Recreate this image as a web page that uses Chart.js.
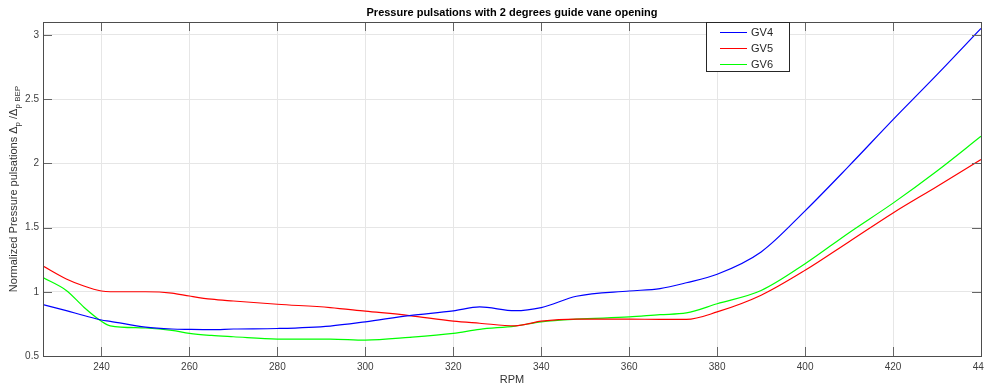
<!DOCTYPE html>
<html>
<head>
<meta charset="utf-8">
<script src="https://cdn.jsdelivr.net/npm/chart.js@4.4.1/dist/chart.umd.min.js"></script>
<style>
  html, body { margin: 0; padding: 0; background: #fff; }
  #wrap { width: 984px; height: 385px; }
</style>
</head>
<body>
<div id="wrap"><canvas id="pulseChart"></canvas></div>
<script>
// rpm sample points shared by all three curves
const rpm = [226.7, 232, 236, 240, 242, 250, 256, 260, 265, 270, 280, 292, 300, 310, 320,
             326, 334, 340, 348, 360, 367, 373, 380, 390, 400, 410, 420, 430, 440];

const gv4 = [0.90, 0.853, 0.815, 0.78, 0.77, 0.725, 0.71, 0.707, 0.705, 0.71, 0.714, 0.733, 0.766, 0.815, 0.851,
             0.882, 0.853, 0.877, 0.965, 1.006, 1.025, 1.07, 1.136, 1.31, 1.63, 1.98, 2.34, 2.69, 3.05];
const gv5 = [1.20, 1.10, 1.045, 1.006, 1.0, 1.0, 0.99, 0.967, 0.942, 0.928, 0.903, 0.877, 0.849, 0.815, 0.771,
             0.755, 0.735, 0.771, 0.787, 0.787, 0.785, 0.785, 0.843, 0.973, 1.167, 1.39, 1.614, 1.82, 2.03];
const gv6 = [1.11, 1.01, 0.88, 0.77, 0.735, 0.718, 0.70, 0.676, 0.66, 0.65, 0.632, 0.632, 0.624, 0.645, 0.676,
             0.708, 0.733, 0.766, 0.787, 0.804, 0.822, 0.835, 0.907, 1.01, 1.218, 1.46, 1.69, 1.94, 2.21];

const seriesNames = ['GV4', 'GV5', 'GV6'];
const seriesColors = ['#0000ff', '#ff0000', '#00ff00'];

const xTicks = [240, 260, 280, 300, 320, 340, 360, 380, 400, 420, 440];
const yTicks = [0.5, 1, 1.5, 2, 2.5, 3];

const titleText = 'Pressure pulsations with 2 degrees guide vane opening';
const xLabel = 'RPM';

const FONT = '"Liberation Sans", Arial, Helvetica, sans-serif';
const BOX_COLOR = '#4d4d4d';
const TICK_COLOR = '#666666';
const GRID_COLOR = '#e6e6e6';

function toPoints(ys) {
    return rpm.map((x, i) => ({ x: x, y: ys[i] }));
}

// matlab style frame: box, inward ticks on all four sides, title, axis labels, legend
const matlabFrame = {
    id: 'matlabFrame',
    afterDraw(chart) {
        const ctx = chart.ctx;
        const area = chart.chartArea;
        const xs = chart.scales.x, ys = chart.scales.y;
        const tl = 9;

        ctx.save();
        ctx.strokeStyle = TICK_COLOR;
        ctx.lineWidth = 1;
        ctx.beginPath();
        xTicks.forEach(v => {
            const px = Math.round(xs.getPixelForValue(v)) + 0.5;
            ctx.moveTo(px, area.bottom); ctx.lineTo(px, area.bottom - tl);
            ctx.moveTo(px, area.top); ctx.lineTo(px, area.top + tl);
        });
        yTicks.forEach(v => {
            const py = Math.round(ys.getPixelForValue(v)) + 0.5;
            ctx.moveTo(area.left, py); ctx.lineTo(area.left + tl, py);
            ctx.moveTo(area.right, py); ctx.lineTo(area.right - tl, py);
        });
        ctx.stroke();
        ctx.strokeStyle = BOX_COLOR;
        ctx.strokeRect(Math.round(area.left) + 0.5, Math.round(area.top) + 0.5,
                       Math.round(area.right - area.left), Math.round(area.bottom - area.top));

        // title
        ctx.fillStyle = '#000';
        ctx.font = 'bold 11px ' + FONT;
        ctx.textAlign = 'center';
        ctx.textBaseline = 'middle';
        ctx.fillText(titleText, (area.left + area.right) / 2, 13);

        // x label
        ctx.fillStyle = '#333';
        ctx.font = '11px ' + FONT;
        ctx.fillText(xLabel, (area.left + area.right) / 2, 380);

        // y label with subscripts, rotated
        const parts = [
            { t: 'Normalized Pressure pulsations \u0394', sub: false },
            { t: 'p', sub: true },
            { t: ' /\u0394', sub: false },
            { t: 'p', sub: true },
            { t: ' BEP', sub: true }
        ];
        const mainFont = '11px ' + FONT, subFont = '8px ' + FONT;
        let total = 0;
        parts.forEach(p => { ctx.font = p.sub ? subFont : mainFont; p.w = ctx.measureText(p.t).width; total += p.w; });
        ctx.translate(17, 189);
        ctx.rotate(-Math.PI / 2);
        ctx.textAlign = 'left';
        ctx.textBaseline = 'alphabetic';
        let cx = -total / 2;
        parts.forEach(p => {
            ctx.font = p.sub ? subFont : mainFont;
            ctx.fillText(p.t, cx, p.sub ? 2.5 : 0);
            cx += p.w;
        });
        ctx.restore();

        // legend box
        ctx.save();
        const lx = 706, ly = 22, lw = 83, lh = 49;
        ctx.fillStyle = '#fff';
        ctx.fillRect(lx, ly, lw, lh);
        ctx.strokeStyle = '#262626';
        ctx.lineWidth = 1;
        ctx.strokeRect(lx + 0.5, ly + 0.5, lw, lh);
        ctx.font = '11px ' + FONT;
        ctx.textAlign = 'left';
        ctx.textBaseline = 'middle';
        chart.data.datasets.forEach((ds, i) => {
            const yy = ly + 10 + i * 16;
            ctx.strokeStyle = seriesColors[i];
            ctx.beginPath();
            ctx.moveTo(lx + 14, yy + 0.5);
            ctx.lineTo(lx + 41, yy + 0.5);
            ctx.stroke();
            ctx.fillStyle = '#262626';
            ctx.fillText(ds.label, lx + 45, yy + 1);
        });
        ctx.restore();
    }
};

new Chart(document.getElementById('pulseChart'), {
    type: 'line',
    data: {
        datasets: [gv4, gv5, gv6].map((ys, i) => ({
            label: seriesNames[i],
            data: toPoints(ys),
            borderColor: seriesColors[i],
            borderWidth: 1.2,
            pointRadius: 0,
            fill: false,
            cubicInterpolationMode: 'monotone'
        }))
    },
    options: {
        responsive: true,
        maintainAspectRatio: false,
        animation: false,
        layout: { padding: { top: 22, right: 3, left: 0, bottom: 0 } },
        plugins: {
            legend: { display: false },
            tooltip: { enabled: false }
        },
        scales: {
            x: {
                type: 'linear',
                min: 226.7,
                max: 440,
                afterBuildTicks: s => { s.ticks = xTicks.map(v => ({ value: v })); },
                afterFit: s => { s.height = 29; s.paddingLeft = 0; s.paddingRight = 0; },
                grid: { color: GRID_COLOR, drawTicks: false },
                border: { display: false },
                ticks: { color: '#404040', font: { family: FONT, size: 10 }, padding: 5, maxRotation: 0, autoSkip: false }
            },
            y: {
                min: 0.5,
                max: 3.1,
                afterBuildTicks: s => { s.ticks = yTicks.map(v => ({ value: v })); },
                afterFit: s => { s.width = 43; s.paddingTop = 0; s.paddingBottom = 0; },
                grid: { color: GRID_COLOR, drawTicks: false },
                border: { display: false },
                ticks: {
                    color: '#404040',
                    font: { family: FONT, size: 10 },
                    padding: 4,
                    callback: v => String(v)
                }
            }
        }
    },
    plugins: [matlabFrame]
});
</script>
</body>
</html>
